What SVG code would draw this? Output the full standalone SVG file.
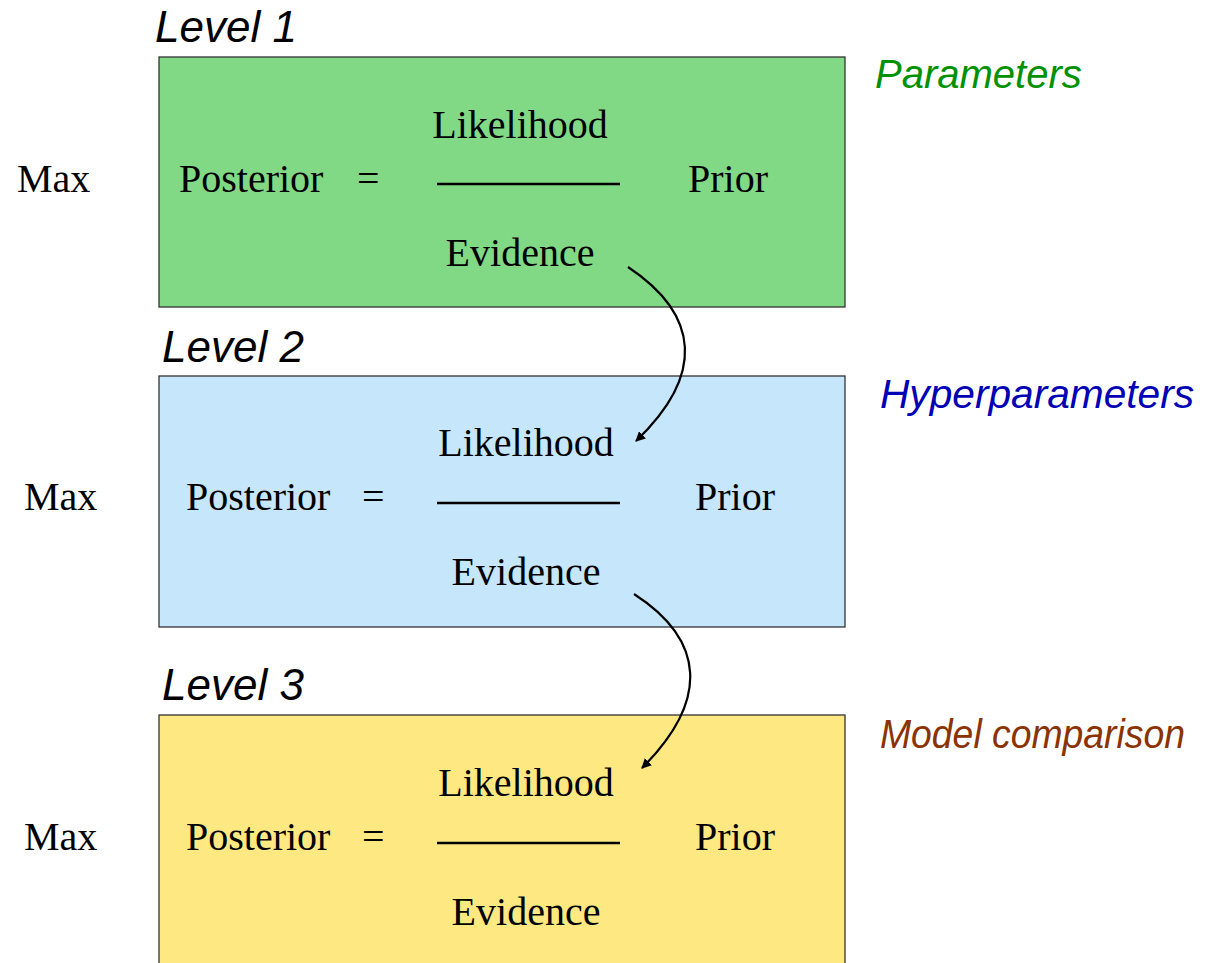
<svg xmlns="http://www.w3.org/2000/svg" width="1221" height="963" viewBox="0 0 1221 963">
<style>
.box{stroke:#333;stroke-width:1.3}
.t{font-family:"Liberation Serif","Times New Roman",serif;font-size:40px;fill:#000}
.m{text-anchor:middle}
.lv{font-family:"Liberation Sans",Arial,sans-serif;font-style:italic;font-size:44px;fill:#000}
.lab{font-family:"Liberation Sans",Arial,sans-serif;font-style:italic;font-size:40px}
.bar{stroke:#000;stroke-width:2.5}
.arr{fill:none;stroke:#000;stroke-width:2.2;marker-end:url(#ah)}
</style>
<defs>
<marker id="ah" viewBox="0 0 10 10" refX="9" refY="5" markerWidth="10" markerHeight="10" markerUnits="userSpaceOnUse" orient="auto">
<path d="M0,0 L10,5 L0,10 z" fill="#000"/>
</marker>
</defs>
<rect width="1221" height="963" fill="#fff"/>
<g id="level1">
<text class="lv" x="155" y="42">Level 1</text>
<rect class="box" x="159" y="57" width="686" height="250" fill="#82d985"/>
<text class="t" x="17" y="192">Max</text>
<text class="t" x="179" y="192">Posterior</text>
<text class="t" x="357" y="192">=</text>
<text class="t m" x="520" y="138">Likelihood</text>
<line class="bar" x1="437" y1="184" x2="620" y2="184"/>
<text class="t m" x="520" y="266">Evidence</text>
<text class="t" x="688" y="192">Prior</text>
<text class="lab" x="875" y="88" fill="#009100">Parameters</text>
</g>
<g id="level2">
<text class="lv" x="162" y="362">Level 2</text>
<rect class="box" x="159" y="376" width="686" height="251" fill="#c5e6fb"/>
<text class="t" x="24" y="510">Max</text>
<text class="t" x="186" y="510">Posterior</text>
<text class="t" x="362" y="510">=</text>
<text class="t m" x="526" y="456">Likelihood</text>
<line class="bar" x1="437" y1="503" x2="620" y2="503"/>
<text class="t m" x="526" y="585">Evidence</text>
<text class="t" x="695" y="510">Prior</text>
<text class="lab" x="880" y="408" fill="#0000b4" textLength="314" lengthAdjust="spacingAndGlyphs">Hyperparameters</text>
</g>
<g id="level3">
<text class="lv" x="162" y="700">Level 3</text>
<rect class="box" x="159" y="715" width="686" height="260" fill="#fee882"/>
<text class="t" x="24" y="850">Max</text>
<text class="t" x="186" y="850">Posterior</text>
<text class="t" x="362" y="850">=</text>
<text class="t m" x="526" y="796">Likelihood</text>
<line class="bar" x1="437" y1="843" x2="620" y2="843"/>
<text class="t m" x="526" y="925">Evidence</text>
<text class="t" x="695" y="850">Prior</text>
<text class="lab" x="880" y="748" fill="#8b3300" textLength="305" lengthAdjust="spacingAndGlyphs">Model comparison</text>
</g>
<g id="connectors">
<path class="arr" d="M628,267 C700,315 705,375 636,441"/>
<path class="arr" d="M634,594 C705,640 710,700 642,768"/>
</g>
</svg>
